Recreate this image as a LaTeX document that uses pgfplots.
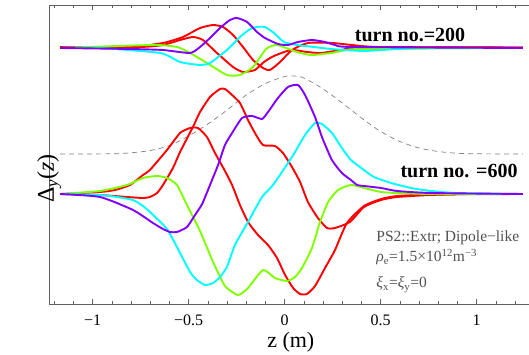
\documentclass[border=0pt]{standalone}
\usepackage{pgfplots}
\pgfplotsset{compat=1.18}
\usepackage{fontspec}
\setmainfont{Liberation Serif}
\definecolor{cred}{RGB}{255,0,0}
\definecolor{cpur}{RGB}{128,0,255}
\definecolor{ccyan}{RGB}{0,255,255}
\definecolor{cgreen}{RGB}{128,255,0}
\definecolor{frame}{RGB}{95,95,95}
\definecolor{anno}{RGB}{80,80,80}
\begin{document}
\begin{tikzpicture}
\begin{axis}[
  scale only axis, width=482pt, height=299pt,
  at={(0pt,0pt)}, anchor=south west,
  xmin=-1.226, xmax=1.2844, ymin=-304, ymax=-5,
  axis line style={frame, line width=0.8pt},
  tick style={frame, line width=0.6pt},
  major tick length=5pt, minor tick length=3pt,
  xtick={-1,-0.5,0,0.5,1}, xticklabels={−1,−0.5,0,0.5,1},
  minor xtick={-1.2,-1.1,-0.9,-0.8,-0.7,-0.6,-0.4,-0.3,-0.2,-0.1,0.1,0.2,0.3,0.4,0.6,0.7,0.8,0.9,1.1,1.2},
  ytick=\empty,
  xticklabel style={font=\fontsize{16}{16}\selectfont, yshift=-7pt},
  xlabel={z (m)},
  xlabel style={font=\fontsize{22}{22}\selectfont, at={(axis description cs:0.501,0)}, anchor=base, yshift=-44pt},
  ylabel={Δ\textsubscript{\textit{y}}(\textit{z})},
  ylabel style={font=\fontsize{24}{24}\selectfont, at={(axis description cs:0,0.5)}, anchor=center, xshift=-24pt},
  clip=true,
  curve/.style={line width=1.9pt, smooth, tension=0.35, line join=round},
]
% dashed profile
\addplot[gray, line width=0.7pt, dash pattern=on 5pt off 4pt, smooth] coordinates {
(-1.17,-154) (-0.9,-153.8) (-0.8,-152.8) (-0.7,-150.5) (-0.6,-145.5) (-0.5,-136) (-0.4,-124) (-0.3,-110) (-0.2,-95) (-0.1,-83.5) (0,-76.5) (0.05,-76) (0.1,-78) (0.2,-89) (0.3,-103) (0.4,-118) (0.5,-131.5) (0.6,-141.5) (0.7,-148) (0.8,-151.5) (0.9,-153.3) (1.0,-153.8) (1.24,-154)};

% ---------- turn 600 ----------
% red B
\addplot[cred, curve] coordinates {
(-1.170,-194) (-0.962,-192) (-0.884,-190) (-0.806,-185) (-0.738,-175) (-0.702,-170) (-0.613,-150) (-0.545,-133) (-0.493,-128) (-0.452,-128) (-0.405,-137) (-0.363,-153) (-0.311,-171) (-0.274,-185) (-0.233,-205) (-0.191,-222) (-0.139,-235) (-0.087,-245) (-0.040,-258) (0.002,-275) (0.044,-288) (0.080,-294) (0.116,-294) (0.158,-286) (0.210,-268) (0.262,-250) (0.324,-223) (0.413,-206) (0.502,-199) (0.585,-196) (0.757,-194.5) (1.241,-194)};
% red A
\addplot[cred, curve] coordinates {
(-1.170,-194) (-0.962,-195) (-0.821,-197) (-0.738,-198) (-0.702,-197) (-0.665,-193) (-0.634,-185) (-0.582,-168) (-0.545,-152) (-0.478,-127) (-0.441,-112) (-0.389,-97) (-0.337,-89) (-0.311,-89) (-0.274,-95) (-0.233,-103) (-0.191,-120) (-0.155,-133) (-0.113,-145) (-0.051,-146) (-0.009,-153) (0.038,-167) (0.080,-182) (0.121,-202) (0.173,-218) (0.220,-228) (0.262,-228) (0.340,-222) (0.413,-207) (0.502,-200) (0.585,-197) (0.757,-195) (0.965,-194) (1.241,-194)};
% green
\addplot[cgreen, curve] coordinates {
(-1.170,-194) (-0.962,-191) (-0.821,-185) (-0.738,-178) (-0.665,-176) (-0.613,-178) (-0.561,-185) (-0.509,-205) (-0.441,-231) (-0.373,-262) (-0.311,-286) (-0.243,-295) (-0.191,-288) (-0.113,-270) (-0.051,-278) (0.012,-281) (0.054,-277) (0.090,-268) (0.142,-248) (0.184,-222) (0.226,-202) (0.278,-190) (0.345,-185) (0.413,-188) (0.502,-192) (0.585,-193) (0.762,-194) (1.241,-194)};
% cyan
\addplot[ccyan, curve] coordinates {
(-1.170,-194) (-0.962,-195) (-0.873,-197) (-0.790,-200) (-0.738,-206) (-0.702,-212) (-0.613,-229) (-0.545,-253) (-0.493,-272) (-0.457,-280) (-0.415,-285) (-0.373,-283) (-0.337,-277) (-0.301,-267) (-0.259,-245) (-0.191,-222) (-0.118,-197) (-0.061,-185) (0.038,-157) (0.106,-135) (0.158,-123) (0.194,-124) (0.246,-133) (0.298,-148) (0.345,-160) (0.413,-170) (0.465,-177) (0.554,-183) (0.658,-188) (0.762,-191) (0.897,-193) (1.241,-194)};
% purple
\addplot[cpur, curve] coordinates {
(-1.170,-194) (-0.962,-197) (-0.790,-210) (-0.686,-223) (-0.634,-229) (-0.597,-232) (-0.561,-232) (-0.509,-227) (-0.467,-215) (-0.430,-204) (-0.389,-185) (-0.347,-165) (-0.311,-145) (-0.274,-133) (-0.222,-118) (-0.170,-116) (-0.118,-119) (-0.087,-112) (-0.035,-98) (0.017,-87) (0.069,-85) (0.106,-95) (0.158,-117) (0.194,-137) (0.246,-160) (0.298,-173) (0.345,-180) (0.377,-185) (0.413,-186) (0.502,-188) (0.585,-191) (0.762,-193) (1.241,-194)};

% ---------- turn 200 ----------
% red 2
\addplot[cred, curve] coordinates {
(-1.170,-47) (-0.754,-47) (-0.634,-45) (-0.545,-40) (-0.478,-37) (-0.426,-40) (-0.353,-53) (-0.269,-67) (-0.217,-72) (-0.155,-70) (-0.108,-62) (-0.056,-56) (0.033,-50) (0.116,-52) (0.189,-53) (0.293,-50) (0.413,-47.5) (1.241,-47.5)};
% red 1
\addplot[cred, curve] coordinates {
(-1.170,-47) (-0.806,-47) (-0.634,-43) (-0.530,-37) (-0.441,-28) (-0.373,-25) (-0.321,-27) (-0.269,-35) (-0.217,-47) (-0.165,-60) (-0.113,-68) (-0.077,-70) (-0.024,-62) (0.038,-50) (0.121,-43) (0.246,-43) (0.351,-45) (0.496,-47) (1.241,-47.5)};
% green
\addplot[cgreen, curve] coordinates {
(-1.170,-48) (-0.686,-45) (-0.561,-47) (-0.493,-53) (-0.405,-63) (-0.301,-75) (-0.233,-75) (-0.165,-67) (-0.097,-49) (-0.040,-45) (0.064,-52) (0.137,-55) (0.241,-53) (0.324,-50) (0.413,-49) (1.241,-48)};
% cyan
\addplot[ccyan, curve] coordinates {
(-1.170,-48) (-0.962,-48) (-0.649,-53) (-0.545,-62) (-0.441,-65) (-0.389,-63) (-0.301,-50) (-0.233,-37) (-0.180,-29) (-0.144,-27) (-0.103,-27) (-0.056,-33) (-0.004,-42) (0.064,-45) (0.153,-47) (0.241,-49) (0.413,-51) (0.585,-49) (0.762,-48) (1.241,-48)};
% purple
\addplot[cpur, curve] coordinates {
(-1.170,-48) (-0.806,-49) (-0.634,-50) (-0.493,-53) (-0.441,-47) (-0.389,-38) (-0.337,-28) (-0.285,-20) (-0.248,-18) (-0.196,-22) (-0.144,-32) (-0.103,-38) (-0.035,-44) (0.017,-45) (0.069,-42) (0.142,-40) (0.210,-42) (0.262,-45) (0.351,-47) (1.241,-48)};

\node[font=\fontsize{20}{20}\selectfont\bfseries] at (axis cs:0.653,-34.5) {turn no.=200};
\node[font=\fontsize{20}{20}\selectfont\bfseries] at (axis cs:0.908,-171) {turn no. =600};
\node[font=\fontsize{15.5}{16}\selectfont, text=anno, anchor=base west, inner sep=0pt] at (axis cs:0.477,-242) {PS2::Extr; Dipole−like};
\node[font=\fontsize{15.5}{16}\selectfont, text=anno, anchor=base west, inner sep=0pt] at (axis cs:0.477,-262) {\textit{ρ}\textsubscript{e}=1.5×10\textsuperscript{12}m\textsuperscript{−3}};
\node[font=\fontsize{15.5}{16}\selectfont, text=anno, anchor=base west, inner sep=0pt] at (axis cs:0.477,-288) {\textit{ξ}\textsubscript{x}=\textit{ξ}\textsubscript{y}=0};
\end{axis}
\pgfresetboundingbox
\path (-49.3pt,-51pt) rectangle (479.7pt,304pt);
\end{tikzpicture}
\end{document}
